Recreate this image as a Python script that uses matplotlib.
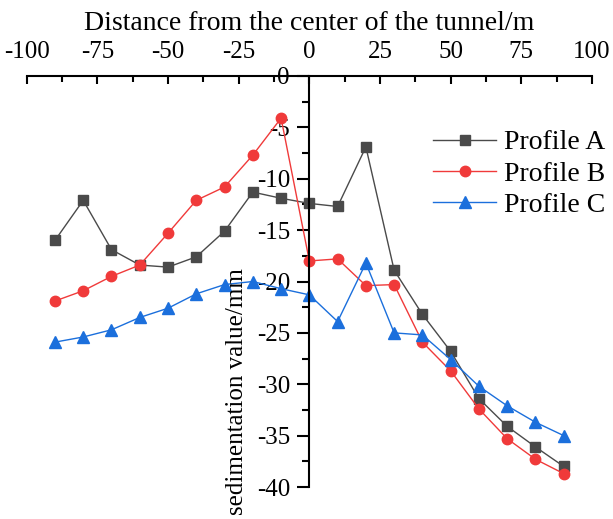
import matplotlib
matplotlib.use("Agg")
import matplotlib.pyplot as plt
from matplotlib.ticker import MultipleLocator

plt.rcParams['font.family'] = ['Liberation Serif', 'DejaVu Serif']
plt.rcParams['axes.unicode_minus'] = False

distance = [-90, -80, -70, -60, -50, -40, -30, -20, -10, 0,
            10, 20, 30, 40, 50, 60, 70, 80, 90]
profile_a = [-16.0, -12.1, -16.9, -18.4, -18.6, -17.6, -15.1, -11.3, -11.9, -12.4,
             -12.7, -6.9, -18.9, -23.2, -26.8, -31.4, -34.1, -36.1, -38.0]
profile_b = [-21.9, -20.9, -19.5, -18.4, -15.3, -12.1, -10.8, -7.7, -4.1, -18.0,
             -17.8, -20.4, -20.3, -25.9, -28.7, -32.4, -35.3, -37.3, -38.7]
profile_c = [-25.9, -25.4, -24.7, -23.5, -22.6, -21.2, -20.3, -20.0, -20.7, -21.3,
             -23.9, -18.2, -25.0, -25.2, -27.6, -30.2, -32.1, -33.7, -35.0]

fig = plt.figure(figsize=(6.13, 5.19), dpi=100)
ax = fig.add_axes([26.7 / 613, 1 - 487 / 519, (592 - 26.7) / 613, (487 - 76) / 519])

ax.plot(distance, profile_a, color='#4a4a4a', lw=1, marker='s', ms=6.5, label='Profile A')
ax.plot(distance, profile_b, color='#f03a3a', lw=1, marker='o', ms=7.5, label='Profile B')
ax.plot(distance, profile_c, color='#1b6fdc', lw=1, marker='^', ms=8.5, label='Profile C')

ax.set_xlim(-100, 100)
ax.set_ylim(-40, 0)

# axis layout: x axis on top, y axis through the centre
ax.spines['right'].set_visible(False)
ax.spines['bottom'].set_visible(False)
ax.spines['left'].set_position(('data', 0))
for s in ['left', 'top']:
    ax.spines[s].set_linewidth(1.5)
    ax.spines[s].set_color('black')

ax.xaxis.tick_top()
ax.xaxis.set_label_position('top')
ax.xaxis.set_major_locator(MultipleLocator(25))
ax.xaxis.set_minor_locator(MultipleLocator(12.5))
ax.yaxis.set_major_locator(MultipleLocator(5))
ax.yaxis.set_minor_locator(MultipleLocator(2.5))
ax.tick_params(axis='x', which='major', direction='in', length=6, width=1.5, labelsize=18, pad=9)
ax.tick_params(axis='x', which='minor', direction='in', length=4, width=1.5)
ax.tick_params(axis='y', which='major', direction='out', length=9, width=1.5, labelsize=18, pad=5)
ax.tick_params(axis='y', which='minor', direction='out', length=5, width=1.5)

ax.set_xlabel('Distance from the center of the tunnel/m', fontsize=20, va='baseline')
ax.xaxis.set_label_coords(0.5, (519 - 30 - 32) / 411)
fig.text(237 / 613, 1 - 268 / 519, 'sedimentation value/mm', rotation=90,
         fontsize=18, ha='center', va='top')

ax.legend(loc='upper left', bbox_to_anchor=(433 / 613, 1 - 130 / 519),
          bbox_transform=fig.transFigure, frameon=False, fontsize=20,
          handlelength=2.27, handletextpad=0.29, labelspacing=0.21,
          borderpad=0, borderaxespad=0)

fig.savefig('out.png', dpi=100)
